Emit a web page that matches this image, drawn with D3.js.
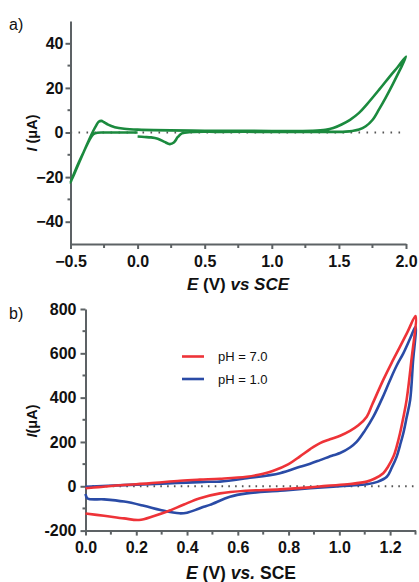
<!DOCTYPE html>
<html><head><meta charset="utf-8">
<script src="https://cdn.jsdelivr.net/npm/d3@7"></script>
<style>body{margin:0;background:#fff}svg{display:block}</style>
</head><body>
<script>
// ---- Panel a) data: E (V vs SCE), I (uA) along the CV scan ----
const aE = [0.0,0.05,0.1,0.15,0.2,0.24,0.27,0.3,0.33,0.4,0.6,0.9,1.2,1.4,1.5,1.55,1.6,1.65,1.7,1.75,1.8,1.85,1.9,1.95,2.0,
            1.94,1.88,1.8,1.707,1.65,1.583,1.52,1.458,1.4,1.3,1.0,0.5,0.0,-0.1,-0.17,-0.22,-0.25,-0.27,-0.29,-0.31,-0.33,-0.36,-0.4,-0.45,-0.5,
            -0.45,-0.4,-0.36,-0.33,-0.3,-0.25,-0.2,-0.1,0.0];
const aI = [-1.8,-2.0,-2.2,-2.8,-4.2,-5.2,-4.5,-2.0,-0.4,0.2,0.3,0.3,0.3,0.3,0.3,0.4,0.7,1.3,2.8,5.6,10.5,15.8,21.5,27.5,34,
            29.5,25.2,19.2,12.5,8.8,5.7,3.6,2.0,1.2,0.8,0.7,0.8,1.3,1.7,2.4,3.5,4.6,5.2,4.8,3.0,0.8,-3,-8.5,-15.5,-22.5,
            -15,-8.5,-3.5,-0.8,-0.1,0,0,0,0];
const aXTicks = [-0.5,0,0.5,1.0,1.5,2.0];
const aYTicks = [-40,-20,0,20,40];

// ---- Panel b) data ----
const seriesNames = ["pH = 7.0","pH = 1.0"];
const redE = [0.0,0.05,0.15,0.25,0.373,0.45,0.53,0.635,0.7,0.74,0.8,0.845,0.885,0.924,0.963,1.003,1.042,1.075,1.108,1.13,1.173,1.205,1.239,1.27,1.3,
              1.283,1.265,1.252,1.239,1.226,1.213,1.19,1.173,1.14,1.108,1.042,0.95,0.885,0.766,0.635,0.53,0.451,0.388,0.322,0.27,0.211,0.152,0.073,0.0];
const redI = [-9,-4,6,13,25,30,34,43,57,70,100,135,168,195,212,228,250,275,314,370,480,555,630,700,768,
              560,390,310,239,180,134,85,59,35,21,10,2,-5,-14,-20,-32,-54,-82,-114,-134,-152,-145,-133,-123];
const blueE = [0.0,0.15,0.3,0.466,0.53,0.635,0.766,0.845,0.885,0.924,0.976,1.003,1.042,1.068,1.1,1.134,1.17,1.2,1.226,1.252,1.28,1.3,
               1.29,1.279,1.265,1.252,1.239,1.226,1.207,1.187,1.15,1.108,1.04,0.976,0.885,0.766,0.635,0.569,0.49,0.466,0.44,0.4,0.37,0.296,0.23,0.152,0.073,0.008,0.0];
const blueI = [-2,5,12,20,21,36,59,88,102,118,140,150,175,200,250,314,400,480,545,600,670,720,
               560,390,310,239,185,134,85,43,20,9,3,-2,-9,-20,-32,-47,-84,-92,-104,-119,-122,-107,-88,-69,-59,-55,-35];
const bXTicks = [0,0.2,0.4,0.6,0.8,1.0,1.2];
const bYTicks = [-200,0,200,400,600,800];

const W = 419, H = 582;
const svg = d3.select("body").append("svg").attr("width", W).attr("height", H)
  .style("font-family","Arial, 'Liberation Sans', sans-serif");

const axisColor = "#5d6265";
function styleAxis(g){
  g.select(".domain").attr("stroke", axisColor).attr("stroke-width", 2);
  g.selectAll(".tick line").attr("stroke", axisColor).attr("stroke-width", 2);
  g.selectAll(".tick text").attr("fill","#111").attr("font-weight","bold").attr("font-size","16px");
}
function minorTicks(g, scale, vals, orient, len){
  const sel = g.append("g");
  vals.forEach(v=>{
    if(orient==="x") sel.append("line").attr("x1",scale(v)).attr("x2",scale(v)).attr("y1",0).attr("y2",len)
        .attr("stroke",axisColor).attr("stroke-width",2);
    else sel.append("line").attr("y1",scale(v)).attr("y2",scale(v)).attr("x1",0).attr("x2",-len)
        .attr("stroke",axisColor).attr("stroke-width",2);
  });
}
const hyph = f => d => f(d).replace("\u2212","-");

// ===== Panel a =====
const xa = d3.scaleLinear().domain([-0.5,2.0]).range([70.5,406]);
const ya = d3.scaleLinear().domain([-50,50]).range([244,21]);

svg.append("line").attr("x1",xa(-0.5)).attr("x2",xa(2.0)).attr("y1",ya(0)).attr("y2",ya(0))
  .attr("stroke","#555").attr("stroke-width",2).attr("stroke-dasharray","1.6,6.4");

const gxa = svg.append("g").attr("transform",`translate(0,${ya(-50)})`)
  .call(d3.axisBottom(xa).tickValues(aXTicks).tickFormat(d3.format(".1f")).tickSize(5).tickPadding(7).tickSizeOuter(0));
styleAxis(gxa);
minorTicks(gxa, xa, [-0.25,0.25,0.75,1.25,1.75], "x", 4);
const gya = svg.append("g").attr("transform",`translate(${xa(-0.5)},0)`)
  .call(d3.axisLeft(ya).tickValues(aYTicks).tickSize(5).tickPadding(2).tickSizeOuter(0));
styleAxis(gya);
minorTicks(gya, ya, [-30,-10,10,30], "y", 3);

const lineA = d3.line().x((d,i)=>xa(aE[i])).y((d,i)=>ya(aI[i])).curve(d3.curveCatmullRom.alpha(0.5));
svg.append("path").datum(aE).attr("d", lineA).attr("fill","none")
  .attr("stroke","#1b8a3e").attr("stroke-width",2.6).attr("stroke-linejoin","round");

svg.append("text").attr("x",9).attr("y",30).attr("font-size","16px").attr("fill","#111").text("a)");
const yla = svg.append("text").attr("transform","translate(37,133) rotate(-90)").attr("text-anchor","middle")
  .attr("font-size","14.5px").attr("font-weight","bold").attr("fill","#111");
yla.append("tspan").attr("font-style","italic").text("I");
yla.append("tspan").text(" (μA)");
const xla = svg.append("text").attr("x",238).attr("y",290).attr("text-anchor","middle")
  .attr("font-size","17px").attr("font-weight","bold").attr("fill","#111");
xla.append("tspan").attr("font-style","italic").text("E");
xla.append("tspan").text(" (V) ");
xla.append("tspan").attr("font-style","italic").text("vs SCE");

// ===== Panel b =====
const xb = d3.scaleLinear().domain([0,1.3]).range([85.5,415.5]);
const yb = d3.scaleLinear().domain([-200,800]).range([530.6,309]);

svg.append("line").attr("x1",xb(0)).attr("x2",xb(1.3)).attr("y1",yb(0)).attr("y2",yb(0))
  .attr("stroke","#555").attr("stroke-width",2).attr("stroke-dasharray","1.6,5.2");

const gxb = svg.append("g").attr("transform",`translate(0,${yb(-200)})`)
  .call(d3.axisBottom(xb).tickValues(bXTicks).tickFormat(d3.format(".1f")).tickSize(5).tickPadding(6).tickSizeOuter(0));
styleAxis(gxb);
minorTicks(gxb, xb, [0.1,0.3,0.5,0.7,0.9,1.1,1.3], "x", 4);
const gyb = svg.append("g").attr("transform",`translate(${xb(0)},0)`)
  .call(d3.axisLeft(yb).tickValues(bYTicks).tickFormat(hyph(d3.format("d"))).tickSize(5).tickPadding(4).tickSizeOuter(0));
styleAxis(gyb);
minorTicks(gyb, yb, [-100,100,300,500,700], "y", 3);

const colors = ["#ee3338","#2a4ba6"];
const seriesE = [redE, blueE], seriesI = [redI, blueI];
[1,0].forEach(k=>{
  const ln = d3.line().x((d,i)=>xb(seriesE[k][i])).y((d,i)=>yb(seriesI[k][i])).curve(d3.curveCatmullRom.alpha(0.5));
  svg.append("path").datum(seriesE[k]).attr("d", ln).attr("fill","none")
    .attr("stroke",colors[k]).attr("stroke-width",2.6).attr("stroke-linejoin","round");
});

// legend
seriesNames.forEach((n,k)=>{
  const y = 356.5 + k*22.5;
  svg.append("line").attr("x1",182).attr("x2",204).attr("y1",y).attr("y2",y).attr("stroke",colors[k]).attr("stroke-width",2.6);
  svg.append("text").attr("x",218).attr("y",y+4.5).attr("font-size","13px").attr("fill","#111").text(n);
});

svg.append("text").attr("x",9).attr("y",319).attr("font-size","16px").attr("fill","#111").text("b)");
const ylb = svg.append("text").attr("transform","translate(37,421) rotate(-90)").attr("text-anchor","middle")
  .attr("font-size","14.5px").attr("font-weight","bold").attr("fill","#111");
ylb.append("tspan").attr("font-style","italic").text("I");
ylb.append("tspan").text("(μA)");
const xlb = svg.append("text").attr("x",241).attr("y",579).attr("text-anchor","middle")
  .attr("font-size","17.5px").attr("font-weight","bold").attr("fill","#111");
xlb.append("tspan").attr("font-style","italic").text("E");
xlb.append("tspan").text(" (V) ");
xlb.append("tspan").attr("font-style","italic").text("vs.");
xlb.append("tspan").text(" SCE");
</script>
</body></html>
